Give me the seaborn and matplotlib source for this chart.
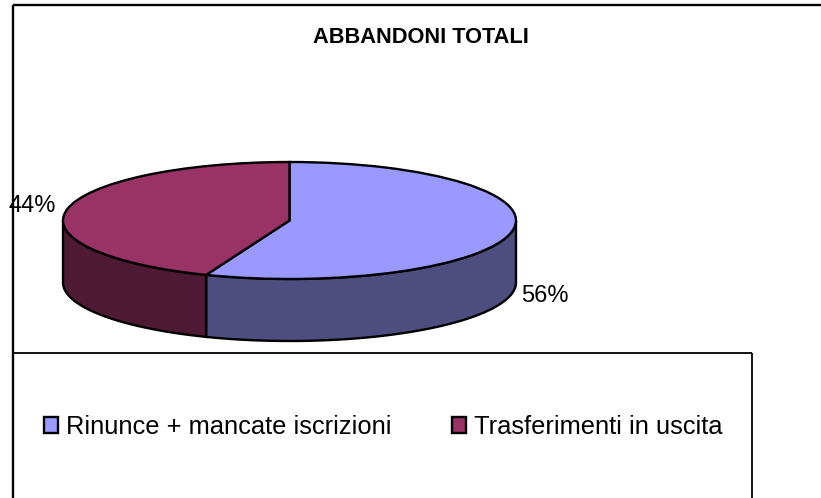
import numpy as np
import matplotlib
matplotlib.use('Agg')
import matplotlib.pyplot as plt
from matplotlib.lines import Line2D
from matplotlib.patches import Patch
import seaborn as sns

# data
labels = ['Rinunce + mancate iscrizioni', 'Trasferimenti in uscita']
values = [56, 44]
top_colors = ['#9999FF', '#993366']
side_colors = ['#4D4D80', '#4D1933']
title = 'ABBANDONI TOTALI'

sns.set_style('white')
plt.rcParams['font.family'] = ['Liberation Sans', 'DejaVu Sans']

W, H = 821, 498
fig = plt.figure(figsize=(W / 100, H / 100), dpi=100, facecolor='white')

# pie axes, placed in pixels: ellipse 63..516 wide, 162..279 high, wall 62 below
depth = 62 / 58.5
left, right, top, bottom = 63, 516, 162, 279 + 62
ax = fig.add_axes([left / W, 1 - bottom / H, (right - left) / W, (bottom - top) / H])

# side wall, front half only
cum = 90
for v, c in zip(values, side_colors):
    a = np.radians(np.linspace(cum, cum - v * 3.6, 200))
    cum = cum - v * 3.6
    a = a[np.sin(a) <= 0]
    if len(a) == 0:
        continue
    xs = np.cos(a)
    ys = np.sin(a)
    ax.fill(np.r_[xs, xs[::-1]], np.r_[ys, ys[::-1] - depth],
            facecolor=c, edgecolor='black', linewidth=1.7, clip_on=False, zorder=1)

wedges, _ = ax.pie(values, colors=top_colors, startangle=90, counterclock=False, radius=1,
                   wedgeprops={'edgecolor': 'black', 'linewidth': 1.7, 'zorder': 2})
for w in wedges:
    w.set_clip_on(False)
ax.set_aspect('auto')
ax.set_xlim(-1, 1)
ax.set_ylim(-1 - depth, 1)
ax.axis('off')
ax.patch.set_alpha(0)

# frame lines
def px_line(x0, y0, x1, y1, lw=1.7):
    fig.add_artist(Line2D([x0 / W, x1 / W], [1 - y0 / H, 1 - y1 / H], color='black',
                          linewidth=lw, solid_capstyle='butt', zorder=0))

px_line(13, 5.5, W, 5.5)
px_line(13, 5, 13, H)
px_line(13, 353.5, 752, 353.5, 1.3)
px_line(752, 353.5, 752, H, 1.3)

fig.text(421 / W, 1 - 37.5 / H, title, ha='center', va='center', fontsize=15.7,
         fontweight='bold', color='black')

# percent labels
fig.text(32.5 / W, 1 - 205.5 / H, f'{values[1]}%', ha='center', va='center', fontsize=17, color='black')
fig.text(545 / W, 1 - 296 / H, f'{values[0]}%', ha='center', va='center', fontsize=17, color='black')

handles = [Patch(facecolor=c, edgecolor='black', linewidth=1.7) for c in top_colors]
fig.legend(handles, labels, ncols=2, frameon=False, fontsize=18.4, labelcolor='black',
           loc='center left', bbox_to_anchor=(44 / W, 1 - 427 / H), borderpad=0, borderaxespad=0,
           handlelength=0.56, handleheight=0.56, handletextpad=0.31, columnspacing=2.35)

fig.savefig('out.png', dpi=100)
